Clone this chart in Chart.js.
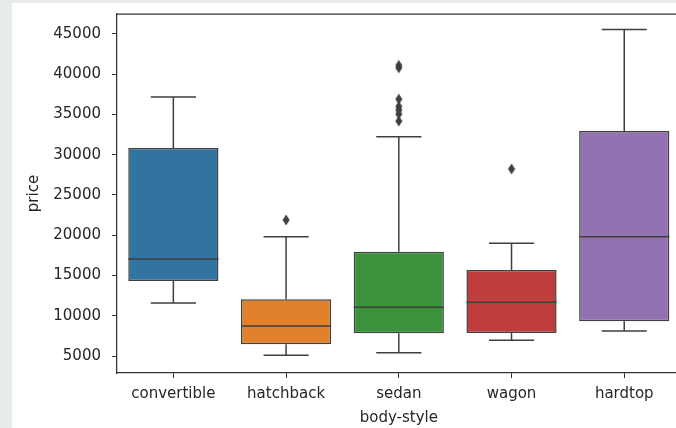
<!DOCTYPE html>
<html>
<head>
<meta charset="utf-8">
<script src="https://cdn.jsdelivr.net/npm/chart.js@4.4.0/dist/chart.umd.min.js"></script>
<style>
    html, body { margin: 0; padding: 0; overflow: hidden; background: #e8eced; }
    #panel { position: absolute; left: 12px; top: 3px; width: 700px; height: 440px; background: #ffffff; }
    #mycanvas { position: absolute; left: 0; top: 0; }
</style>
</head>
<body>
<div id="panel"></div>
<canvas id="mycanvas" width="700" height="428"></canvas>
<script>
// values
const categories = ['convertible', 'hatchback', 'sedan', 'wagon', 'hardtop'];
const whiskerLow = [11590, 5090, 5410, 6950, 8110];
const q1 = [14320, 6450, 7820, 7860, 9310];
const median = [17050, 8730, 11050, 11670, 19820];
const q3 = [30840, 12040, 17960, 15680, 32950];
const whiskerHigh = [37170, 19820, 32240, 19000, 45550];
const outlierCats = ['hatchback', 'sedan', 'sedan', 'sedan', 'sedan', 'sedan', 'sedan', 'sedan', 'wagon'];
const outlierValues = [21900, 41100, 40800, 36900, 36000, 35550, 35050, 34180, 28230];
const yTicks = [5000, 10000, 15000, 20000, 25000, 30000, 35000, 40000, 45000];
const boxColors = ['#3274a1', '#e1812c', '#3a923a', '#c03d3e', '#9372b2'];

const lineColor = '#3f3f3f';
const textColor = '#262626';

Chart.defaults.font.family = 'DejaVu Sans';
Chart.defaults.font.size = 15;
Chart.defaults.color = textColor;

// thin diamond like seaborn's 'd' flier marker
const diamond = document.createElement('canvas');
diamond.width = 8;
diamond.height = 12;
const dctx = diamond.getContext('2d');
dctx.fillStyle = lineColor;
dctx.beginPath();
dctx.moveTo(4, 0.5);
dctx.lineTo(7.5, 6);
dctx.lineTo(4, 11.5);
dctx.lineTo(0.5, 6);
dctx.closePath();
dctx.fill();

const boxLines = {
    id: 'boxLines',
    beforeDatasetsDraw(chart) {
        const ctx = chart.ctx;
        const xs = chart.scales.x;
        const ys = chart.scales.y;
        const bars = chart.getDatasetMeta(0).data;
        ctx.save();
        ctx.strokeStyle = lineColor;
        ctx.lineWidth = 1.5;
        for (var i = 0; i < categories.length; i++) {
            var x = xs.getPixelForValue(i);
            var half = bars[i].width / 4;
            ctx.beginPath();
            ctx.moveTo(x, ys.getPixelForValue(q3[i]));
            ctx.lineTo(x, ys.getPixelForValue(whiskerHigh[i]));
            ctx.moveTo(x - half, ys.getPixelForValue(whiskerHigh[i]));
            ctx.lineTo(x + half, ys.getPixelForValue(whiskerHigh[i]));
            ctx.moveTo(x, ys.getPixelForValue(q1[i]));
            ctx.lineTo(x, ys.getPixelForValue(whiskerLow[i]));
            ctx.moveTo(x - half, ys.getPixelForValue(whiskerLow[i]));
            ctx.lineTo(x + half, ys.getPixelForValue(whiskerLow[i]));
            ctx.stroke();
        }
        ctx.restore();
    },
    afterDatasetsDraw(chart) {
        const ctx = chart.ctx;
        const xs = chart.scales.x;
        const ys = chart.scales.y;
        const bars = chart.getDatasetMeta(0).data;
        const area = chart.chartArea;
        ctx.save();
        ctx.strokeStyle = lineColor;
        ctx.lineWidth = 1.5;
        for (var i = 0; i < categories.length; i++) {
            var x = xs.getPixelForValue(i);
            var half = bars[i].width / 2;
            var y = ys.getPixelForValue(median[i]);
            ctx.beginPath();
            ctx.moveTo(x - half, y);
            ctx.lineTo(x + half, y);
            ctx.stroke();
        }
        // top spine
        ctx.strokeStyle = '#333333';
        ctx.lineWidth = 1.25;
        ctx.beginPath();
        ctx.moveTo(area.left, area.top);
        ctx.lineTo(area.right, area.top);
        ctx.stroke();
        ctx.restore();
    }
};

const boxData = categories.map(function (c, i) { return [q1[i], q3[i]]; });
const outlierData = outlierCats.map(function (c, i) { return { x: c, y: outlierValues[i] }; });

var ctx = document.getElementById('mycanvas');

var boxChart = new Chart(ctx, {
    type: 'bar',
    data: {
        labels: categories,
        datasets: [{
            label: 'price',
            data: boxData,
            backgroundColor: boxColors,
            borderColor: lineColor,
            borderWidth: 1.5,
            borderSkipped: false,
            categoryPercentage: 1,
            barPercentage: 0.8
        }, {
            type: 'line',
            label: 'outliers',
            data: outlierData,
            showLine: false,
            pointStyle: diamond,
            pointRadius: 5
        }]
    },
    options: {
        responsive: false,
        animation: false,
        layout: { padding: { left: 0, top: 14, right: 19.4, bottom: 0 } },
        plugins: {
            legend: { display: false },
            tooltip: { enabled: false }
        },
        scales: {
            x: {
                offset: true,
                afterFit: function (scale) {
                    scale.height = 55;
                    scale.paddingLeft = 0;
                    scale.paddingRight = 0;
                },
                grid: { drawOnChartArea: false, drawTicks: true, tickLength: 5, color: '#333333', offset: false },
                border: { display: true, color: '#333333', width: 1.25 },
                ticks: { padding: 7, color: textColor },
                title: { display: true, text: 'body-style', color: textColor, padding: { top: 0, bottom: 1 } }
            },
            y: {
                min: 2890,
                max: 47480,
                afterFit: function (scale) {
                    scale.width = 117;
                    scale.paddingTop = 0;
                    scale.paddingBottom = 0;
                },
                afterBuildTicks: function (scale) {
                    scale.ticks = yTicks.map(function (v) { return { value: v }; });
                },
                grid: { drawOnChartArea: false, drawTicks: true, tickLength: 5, color: '#333333' },
                border: { display: true, color: '#333333', width: 1.25 },
                ticks: {
                    padding: 11,
                    color: textColor,
                    callback: function (value) { return String(value); }
                },
                title: { display: true, text: 'price', color: textColor, padding: { top: 25, bottom: 0 } }
            }
        }
    },
    plugins: [boxLines]
});
</script>
</body>
</html>
